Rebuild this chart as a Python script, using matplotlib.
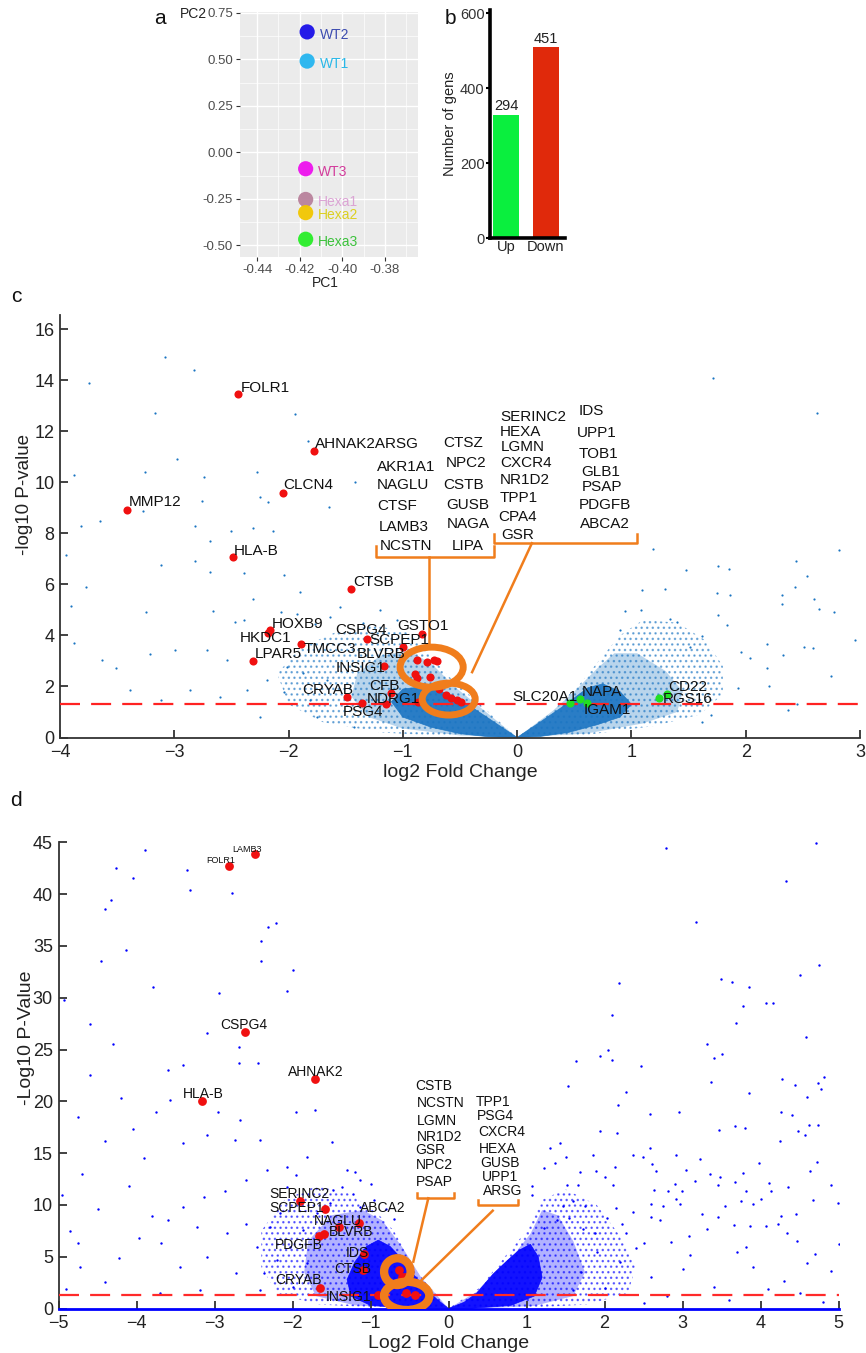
import matplotlib
matplotlib.use("Agg")
import matplotlib.pyplot as plt
import numpy as np
from matplotlib.patches import Ellipse, Polygon
from matplotlib.ticker import AutoMinorLocator

plt.rcParams['font.family'] = ['Liberation Sans', 'DejaVu Sans']
plt.rcParams['hatch.linewidth'] = 1.0

# ---------------- panel a : PCA ----------------
pca_samples = ["WT2", "WT1", "WT3", "Hexa1", "Hexa2", "Hexa3"]
pca_pc1 = [-0.4165, -0.4165, -0.4172, -0.4172, -0.4172, -0.4172]
pca_pc2 = [0.648, 0.491, -0.088, -0.253, -0.324, -0.467]
pca_dot_colors = ["#1a10e8", "#25b5f0", "#ee12ee", "#b9829c", "#f2c600", "#28ee28"]
pca_text_colors = ["#3c4cb0", "#2ab8e8", "#d33c9c", "#dba4d4", "#dcd020", "#3cc23c"]

# ---------------- panel b : DEG counts ----------------
deg_groups = ["Up", "Down"]
deg_heights = [330, 509]
deg_labels = ["294", "451"]
deg_colors = ["#0aef3e", "#e0290b"]

# ---------------- panel c : volcano (log2FC, -log10 p) ----------------
c_bg = np.array([
    (-3.08, 14.9), (-2.83, 14.4), (-3.75, 13.9), (-3.17, 12.7), (-1.94, 12.66), (-1.83, 11.6),
    (-3.88, 10.3), (-2.98, 10.9), (-3.26, 10.4), (-2.74, 10.2), (-2.28, 10.4), (-1.42, 10.0),
    (-2.25, 9.43), (-2.18, 9.24), (-1.65, 9.04), (-2.76, 9.28), (-3.27, 8.89), (-3.82, 8.3),
    (-2.82, 8.3), (-2.5, 8.1), (-2.31, 8.2), (-2.14, 8.1),
    (-2.69, 6.48), (-2.39, 6.44), (-2.04, 6.37), (-1.9, 5.7), (-2.31, 5.44), (-2.66, 4.95),
    (-2.07, 4.91), (-1.93, 4.82), (-2.39, 4.59), (-2.47, 4.52), (-1.77, 4.46), (-1.64, 4.72),
    (-1.55, 5.11), (-2.71, 3.42), (-2.54, 3.03), (-2.01, 2.77), (-1.87, 2.51), (-2.19, 2.25),
    (-1.66, 2.25), (-2.36, 1.86), (-2.04, 1.79), (-2.6, 1.59), (-1.81, 1.46), (-2.25, 0.81),
    (-1.75, 0.81), (-1.43, 0.42),
    (-3.77, 5.88), (-3.9, 5.14), (-3.88, 3.69), (-3.63, 3.03), (-3.51, 2.71), (-3.25, 4.9),
    (-3.21, 3.26), (-2.99, 3.42), (-2.86, 1.86), (-3.12, 1.46), (-3.39, 1.86), (-3.95, 7.13),
    (-3.65, 8.5), (-2.82, 6.93), (-3.12, 6.74), (-2.69, 7.71),
    (-1.2, 5.0), (-1.05, 4.6), (-1.35, 4.5), (-1.3, 6.3),
    (1.71, 14.1), (2.62, 12.7),
    (1.19, 7.39), (2.82, 7.35), (2.44, 6.9), (1.76, 6.71), (1.48, 6.57), (1.85, 6.6),
    (2.54, 6.31), (2.43, 5.89), (1.09, 5.76), (1.29, 5.83), (1.75, 5.66), (1.86, 5.57),
    (2.32, 5.59), (2.6, 5.41), (2.32, 5.24), (0.94, 4.95), (1.08, 5.0), (2.64, 5.05),
    (2.77, 4.91), (1.76, 4.79), (1.34, 4.63), (1.4, 4.52), (1.84, 4.39), (2.96, 3.81),
    (2.19, 3.68), (2.51, 3.55), (2.59, 3.51), (2.33, 3.25), (2.04, 3.13), (2.19, 2.73),
    (0.9, 4.2), (1.51, 3.55), (1.62, 3.96), (2.37, 1.07), (1.62, 0.62), (1.93, 1.92),
    (1.96, 3.35), (2.2, 2.0), (2.45, 1.3), (2.75, 2.4), (1.7, 0.9),
])
c_left_halo = [(0, 0), (-0.3, 1.2), (-0.6, 2.4), (-0.8, 3.4), (-0.95, 4.1), (-1.25, 4.4),
               (-1.6, 4.1), (-1.9, 3.5), (-2.1, 2.5), (-2.0, 1.3), (-1.7, 0.6), (-1.2, 0.2), (-0.5, 0.02)]
c_left_mid = [(0, 0), (-0.3, 1.1), (-0.55, 2.0), (-0.75, 2.9), (-0.95, 3.4), (-1.2, 3.2),
              (-1.4, 2.5), (-1.45, 1.6), (-1.3, 0.8), (-1.0, 0.35), (-0.5, 0.08)]
c_left_core = [(0, 0), (-0.2, 0.6), (-0.4, 1.2), (-0.6, 1.7), (-0.8, 2.0), (-1.0, 1.9),
               (-1.1, 1.4), (-1.0, 0.8), (-0.75, 0.4), (-0.5, 0.15), (-0.25, 0.03)]
c_right_halo = [(0, 0), (0.3, 1.0), (0.55, 2.1), (0.75, 3.2), (0.9, 4.0), (1.1, 4.6), (1.4, 4.5),
                (1.65, 3.8), (1.8, 2.8), (1.8, 1.7), (1.6, 0.9), (1.2, 0.45), (0.6, 0.1)]
c_right_mid = [(0, 0), (0.3, 1.0), (0.5, 1.8), (0.7, 2.7), (0.85, 3.3), (1.05, 3.3), (1.3, 2.6),
               (1.45, 1.8), (1.4, 1.0), (1.1, 0.55), (0.6, 0.15)]
c_right_core = [(0, 0), (0.2, 0.6), (0.38, 1.15), (0.5, 1.55), (0.62, 1.95), (0.75, 2.1),
                (0.9, 1.8), (1.0, 1.3), (0.9, 0.8), (0.7, 0.5), (0.45, 0.2), (0.2, 0.04)]

c_red_genes = ["FOLR1", "AHNAK2ARSG", "CLCN4", "MMP12", "HLA-B", "CTSB", "HOXB9", "HKDC1",
               "TMCC3", "LPAR5", "CSPG4", "GSTO1", "SCPEP1", "BLVRB", "INSIG1", "CFB",
               "CRYAB", "NDRG1", "PSG4"]
c_red_x = [-2.44, -1.78, -2.05, -3.41, -2.49, -1.45, -2.16, -2.18, -1.89, -2.31, -1.31, -0.83,
           -1.0, -0.88, -1.165, -1.10, -1.49, -1.15, -1.354]
c_red_y = [13.45, 11.23, 9.59, 8.93, 7.06, 5.83, 4.2, 4.08, 3.65, 3.0, 3.87, 4.04, 3.55, 3.05,
           2.79, 1.75, 1.57, 1.31, 1.36]
c_red_label_pos = [(-2.42, 13.7), (-1.77, 11.49), (-2.045, 9.9), (-3.4, 9.21), (-2.48, 7.32),
                   (-1.437, 6.09), (-2.146, 4.46), (-2.43, 3.91), (-1.87, 3.45), (-2.3, 3.29),
                   (-1.59, 4.23), (-1.05, 4.36), (-1.29, 3.81), (-1.4, 3.29), (-1.59, 2.73),
                   (-1.29, 2.02), (-1.88, 1.86), (-1.32, 1.49), (-1.53, 1.01)]
c_red_cluster_x = [-0.79, -0.73, -0.70, -0.897, -0.88, -0.765, -0.62, -0.53, -0.49, -0.87, -0.58, -0.68]
c_red_cluster_y = [2.96, 3.03, 3.0, 2.5, 2.35, 2.37, 1.66, 1.46, 1.40, 1.4, 1.55, 1.9]

c_green_genes = ["SLC20A1", "NAPA", "IGAM1", "CD22", "RGS16"]
c_green_x = [0.46, 0.55, 0.61, 1.31, 1.24]
c_green_y = [1.37, 1.5, 1.37, 1.69, 1.56]
c_green_label_pos = [(-0.046, 1.59), (0.566, 1.79), (0.58, 1.07), (1.324, 1.98), (1.275, 1.49)]

c_group_genes = ["AKR1A1", "NAGLU", "CTSF", "LAMB3", "NCSTN",
                 "CTSZ", "NPC2", "CSTB", "GUSB", "NAGA", "LIPA",
                 "SERINC2", "HEXA", "LGMN", "CXCR4", "NR1D2", "TPP1", "CPA4", "GSR",
                 "IDS", "UPP1", "TOB1", "GLB1", "PSAP", "PDGFB", "ABCA2"]
c_group_pos = [(-1.225, 10.6), (-1.225, 9.89), (-1.225, 9.08), (-1.207, 8.26), (-1.199, 7.52),
               (-0.647, 11.52), (-0.621, 10.77), (-0.647, 9.89), (-0.621, 9.11), (-0.612, 8.37), (-0.569, 7.52),
               (-0.149, 12.56), (-0.149, 11.97), (-0.14, 11.36), (-0.149, 10.77), (-0.149, 10.09),
               (-0.149, 9.38), (-0.166, 8.65), (-0.14, 7.94),
               (0.534, 12.77), (0.525, 11.92), (0.542, 11.10), (0.56, 10.41), (0.569, 9.80),
               (0.542, 9.11), (0.551, 8.37)]

# ---------------- panel d : volcano ----------------
d_bg = np.array([
    (2.79, 44.45), (4.71, 44.9), (4.33, 41.3), (3.17, 37.3), (4.75, 33.2), (4.5, 32.2),
    (2.19, 31.4), (3.49, 31.8), (3.64, 31.5), (3.85, 31.0), (3.78, 29.2), (4.07, 29.5),
    (4.16, 29.5), (2.10, 28.3), (3.69, 27.6), (4.58, 26.2), (3.32, 25.5), (3.41, 24.2),
    (3.5, 24.6), (2.05, 24.95), (1.94, 24.4), (2.10, 24.0), (1.64, 23.9), (2.47, 23.4),
    (1.53, 21.5), (2.27, 20.9), (3.37, 21.9), (3.85, 20.8), (4.28, 22.2), (4.44, 21.6),
    (4.81, 22.3), (4.74, 21.8), (4.78, 21.2), (4.59, 20.4), (2.17, 19.6), (2.96, 19.0),
    (2.58, 18.8), (4.26, 19.0), (4.4, 18.7), (1.94, 17.1), (2.16, 16.9), (3.47, 17.2),
    (3.67, 17.6), (3.8, 17.4), (4.48, 17.1), (4.62, 17.7), (4.74, 17.7), (4.57, 16.7),
    (4.25, 16.2), (1.43, 16.0), (1.30, 15.5), (1.85, 14.8), (2.37, 14.8), (2.49, 14.65),
    (2.58, 15.5), (2.92, 14.8), (3.22, 14.4), (3.98, 14.0), (4.73, 14.1), (4.64, 13.3),
    (1.22, 13.6), (1.37, 14.0), (1.5, 14.6), (1.69, 13.2), (1.89, 13.3), (2.0, 12.7),
    (2.14, 13.7), (2.11, 11.95), (2.66, 13.3), (2.61, 13.9), (3.05, 13.4), (3.35, 12.95),
    (3.48, 12.7), (3.78, 13.1), (3.67, 12.2), (4.11, 12.1), (4.35, 11.7), (4.9, 11.9),
    (4.67, 10.5), (4.99, 10.15), (3.81, 11.3), (3.45, 11.9), (3.16, 12.3), (2.9, 12.0),
    (2.64, 11.4), (2.82, 11.3), (2.99, 11.3), (2.92, 10.6), (1.52, 11.95), (1.66, 11.95),
    (1.07, 11.8), (1.07, 10.95), (1.47, 9.9), (1.59, 10.4), (1.75, 9.9), (2.15, 9.67),
    (2.36, 9.28), (2.6, 10.1), (2.75, 9.86), (2.97, 10.1), (3.25, 9.09), (3.45, 8.8),
    (3.55, 9.9), (3.75, 10.35), (3.91, 10.1), (4.0, 10.6), (4.14, 11.3), (4.26, 8.9),
    (4.45, 9.1), (3.66, 8.1), (3.86, 7.96), (4.07, 7.96), (4.23, 8.2), (4.34, 7.26),
    (4.47, 6.55), (5.0, 6.2), (3.08, 7.0), (3.31, 7.67), (2.71, 8.54), (2.59, 8.8),
    (2.22, 8.2), (2.28, 7.26), (2.03, 8.7), (1.73, 7.64), (1.54, 8.7), (1.39, 8.54),
    (1.22, 7.74), (1.88, 7.26), (2.51, 6.35), (2.85, 6.45), (3.82, 5.97),
    (2.2, 4.5), (2.6, 3.0), (3.1, 5.2), (3.4, 2.1), (3.9, 4.0), (4.3, 2.7), (4.7, 5.3),
    (4.9, 3.6), (1.7, 3.5), (2.0, 2.0), (2.8, 1.2), (3.6, 0.8), (4.5, 1.5), (4.8, 0.6),
    (1.9, 5.5), (2.4, 5.8), (3.0, 3.8), (3.7, 5.5), (4.1, 1.9), (2.5, 0.5), (1.6, 1.8), (4.6, 4.4),
    (-3.89, 44.3), (-4.26, 42.55), (-4.05, 41.6), (-3.35, 42.3), (-3.31, 40.4), (-2.78, 40.1),
    (-4.33, 39.4), (-4.4, 38.6), (-2.21, 37.2), (-2.31, 36.85), (-2.4, 35.5), (-4.14, 34.6),
    (-4.45, 33.5), (-2.4, 33.5), (-1.99, 32.7), (-3.79, 31.0), (-2.94, 30.5), (-2.07, 30.6),
    (-4.93, 29.8), (-4.6, 27.5), (-3.1, 26.6), (-2.68, 25.2),
    (-3.4, 23.5), (-2.69, 23.7), (-2.44, 23.7), (-3.57, 20.1), (-2.95, 19.0), (-2.67, 18.2),
    (-3.1, 16.75), (-2.74, 16.3), (-3.4, 15.95), (-2.42, 16.3), (-1.95, 19.0), (-1.71, 19.2),
    (-1.5, 16.1), (-1.82, 14.65), (-2.07, 13.7), (-2.33, 13.4), (-2.59, 12.4), (-2.87, 11.3),
    (-3.14, 10.8), (-3.4, 9.8), (-3.59, 8.54), (-3.23, 7.9), (-2.84, 7.26), (-2.59, 8.2),
    (-2.46, 5.97), (-3.1, 5.0), (-3.44, 4.0), (-2.72, 3.4), (-2.37, 3.4), (-3.19, 1.79),
    (-2.16, 9.2), (-2.07, 11.75), (-1.95, 12.9), (-1.86, 7.6), (-2.29, 7.9), (-1.48, 11.4),
    (-1.37, 11.75), (-1.22, 11.1), (-1.13, 9.8), (-1.52, 10.15), (-1.69, 9.2), (-2.03, 5.97),
    (-2.2, 4.68), (-1.82, 4.36), (-1.99, 2.1), (-2.42, 1.79),
    (-4.6, 22.5), (-4.2, 20.3), (-4.75, 18.5), (-4.4, 16.2), (-3.9, 14.5), (-4.7, 13.0),
    (-4.1, 11.8), (-4.5, 9.6), (-3.8, 8.9), (-4.85, 7.5), (-4.75, 6.3), (-4.72, 4.0),
    (-3.97, 6.8), (-4.22, 4.9), (-3.69, 6.3), (-4.4, 2.6), (-4.9, 1.9), (-3.7, 1.5),
    (-4.95, 11.0), (-4.3, 25.5), (-3.6, 23.0), (-3.75, 19.0), (-4.05, 17.3),
    (-1.3, 13.4), (-1.13, 12.4), (-0.95, 10.5), (-0.8, 9.6), (-1.2, 13.2), (-1.0, 12.0), (-0.7, 8.6),
])
d_left_halo = [(0, 0), (-0.4, 3.5), (-0.7, 7.5), (-0.95, 9.5), (-1.3, 11.2), (-1.7, 11.8),
               (-2.1, 10.5), (-2.4, 7.5), (-2.4, 4.0), (-2.2, 1.5), (-1.7, 0.4), (-0.8, 0.05)]
d_left_mid = [(0, 0), (-0.35, 3.0), (-0.6, 6.0), (-0.85, 8.5), (-1.1, 9.5), (-1.5, 9.0),
              (-1.8, 6.5), (-1.85, 3.5), (-1.7, 1.2), (-1.2, 0.3), (-0.6, 0.05)]
d_left_core = [(0, 0), (-0.15, 0.9), (-0.28, 1.8), (-0.45, 3.3), (-0.6, 4.8), (-0.75, 6.0),
               (-0.9, 6.6), (-1.05, 6.0), (-1.2, 4.5), (-1.3, 2.8), (-1.25, 1.2), (-1.0, 0.3), (-0.5, 0.04)]
d_right_halo = [(0, 0), (0.4, 2.0), (0.7, 4.8), (1.0, 7.5), (1.2, 10.5), (1.5, 11.5), (1.9, 10.0),
                (2.2, 7.0), (2.4, 4.0), (2.3, 1.5), (1.8, 0.4), (1.0, 0.05)]
d_right_mid = [(0, 0), (0.36, 1.6), (0.6, 3.6), (0.85, 5.3), (1.05, 7.2), (1.2, 9.5), (1.4, 9.0),
               (1.6, 6.5), (1.75, 3.5), (1.6, 1.2), (1.1, 0.25), (0.5, 0.03)]
d_right_core = [(0, 0), (0.2, 0.6), (0.36, 1.47), (0.57, 3.3), (0.75, 4.6), (0.9, 5.6),
                (1.05, 6.2), (1.15, 5.0), (1.2, 3.0), (1.1, 1.2), (0.8, 0.3), (0.3, 0.02)]

d_red_genes = ["LAMB3", "FOLR1", "CSPG4", "AHNAK2", "HLA-B", "SERINC2", "SCPEP1", "ABCA2",
               "NAGLU", "BLVRB", "PDGFB", "IDS", "CTSB", "CRYAB", "INSIG1"]
d_red_x = [-2.48, -2.81, -2.61, -1.71, -3.16, -1.91, -1.58, -1.15, -1.41, -1.60, -1.66,
           -1.08, -1.09, -1.65, -0.9]
d_red_y = [43.9, 42.7, 26.7, 22.15, 20.0, 10.4, 9.57, 8.28, 7.9, 7.19, 7.03, 5.23, 3.7, 2.0, 1.3]
d_red_label_pos = [(-2.77, 44.35), (-3.10, 43.2), (-2.92, 27.4), (-2.06, 22.8), (-3.41, 20.7),
                   (-2.30, 11.05), (-2.30, 9.73), (-1.14, 9.67), (-1.72, 8.47), (-1.53, 7.36),
                   (-2.22, 6.13), (-1.32, 5.39), (-1.46, 3.78), (-2.22, 2.75), (-1.58, 1.14)]
d_red_cluster_x = [-0.64, -0.60, -0.56, -0.54, -0.43]
d_red_cluster_y = [3.7, 3.07, 3.07, 1.47, 1.3]

d_group_genes = ["CSTB", "NCSTN", "LGMN", "NR1D2", "GSR", "NPC2", "PSAP",
                 "TPP1", "PSG4", "CXCR4", "HEXA", "GUSB", "UPP1", "ARSG"]
d_group_pos = [(-0.43, 21.5), (-0.40, 19.8), (-0.40, 18.1), (-0.41, 16.6), (-0.42, 15.3),
               (-0.42, 13.85), (-0.42, 12.24),
               (0.353, 19.9), (0.369, 18.6), (0.382, 17.0), (0.395, 15.4), (0.404, 14.07),
               (0.426, 12.72), (0.438, 11.37)]

ORANGE = "#f07d1c"
C_BLUE = "#1a74c2"
D_BLUE = "#0000ff"
RED = "#f01010"

fig = plt.figure(figsize=(8.66, 13.53), dpi=100)

def fx(px):
    return px / 866.0

def fy(py):
    return 1 - py / 1353.0

def draw_cloud(ax, halo, mid, core, color):
    # dense scatter cloud drawn as speckle / shaded layers
    ax.add_patch(Polygon(halo, closed=True, facecolor="none", edgecolor=color,
                         hatch="...", lw=0, alpha=0.55, zorder=1))
    ax.add_patch(Polygon(mid, closed=True, facecolor=color, edgecolor="none",
                         alpha=0.3, zorder=1))
    ax.add_patch(Polygon(core, closed=True, facecolor=color, edgecolor=color,
                         lw=0.5, alpha=0.9, zorder=1))

# ---------- a ----------
axa = fig.add_axes([fx(240), fy(257), fx(178), 245 / 1353.0])
axa.set_facecolor("#ebebeb")
for s in axa.spines.values():
    s.set_visible(False)
axa.set_xlim(-0.448, -0.3645)
axa.set_ylim(-0.5625, 0.755)
axa.set_xticks([-0.44, -0.42, -0.40, -0.38])
axa.set_xticklabels(["-0.44", "-0.42", "-0.40", "-0.38"])
axa.set_yticks([-0.5, -0.25, 0, 0.25, 0.5, 0.75])
axa.set_yticklabels(["-0.50", "-0.25", "0.00", "0.25", "0.50", "0.75"])
axa.xaxis.set_minor_locator(AutoMinorLocator(2))
axa.yaxis.set_minor_locator(AutoMinorLocator(2))
axa.grid(True, which="major", color="white", lw=1.0)
axa.grid(True, which="minor", color="white", lw=0.5)
axa.set_axisbelow(True)
axa.tick_params(which="major", direction="out", length=3, color="#333333",
                labelsize=9.5, labelcolor="#4d4d4d", pad=2)
axa.tick_params(which="minor", length=0)
axa.scatter(pca_pc1, pca_pc2, s=120, c=pca_dot_colors, alpha=0.95, linewidths=0, zorder=3)
for name, x, y, col in zip(pca_samples, pca_pc1, pca_pc2, pca_text_colors):
    axa.annotate(name, (x, y), xytext=(9, -2), textcoords="offset points",
                 color=col, fontsize=10, va="center", ha="left")
axa.text(-0.264, 0.992, "PC2", transform=axa.transAxes, fontsize=10, color="#222222",
         ha="center", va="center")
axa.text(0.478, -0.108, "PC1", transform=axa.transAxes, fontsize=10, color="#222222",
         ha="center", va="center")

# ---------- b ----------
axb = fig.add_axes([fx(490), fy(238.3), fx(75), (238.3 - 10) / 1353.0])
xb = np.arange(len(deg_groups))
bars = axb.bar(xb, deg_heights, width=0.65, color=deg_colors)
for rect, lab in zip(bars, deg_labels):
    axb.annotate(lab, (rect.get_x() + rect.get_width() / 2, rect.get_height()),
                 xytext=(0, 1), textcoords="offset points", ha="center", va="bottom",
                 fontsize=10.5, color="#222222")
axb.set_xlim(-0.4, 1.475)
axb.set_ylim(0, 609)
axb.set_yticks([0, 200, 400, 600])
axb.set_xticks(xb)
axb.set_xticklabels(deg_groups)
axb.spines["top"].set_visible(False)
axb.spines["right"].set_visible(False)
axb.spines["left"].set_linewidth(2.6)
axb.spines["bottom"].set_linewidth(2.6)
axb.tick_params(axis="y", direction="out", length=3, width=1.5, labelsize=10.5,
                labelcolor="#333333", pad=1)
axb.tick_params(axis="x", length=0, labelsize=10.5, labelcolor="#222222", pad=1)
axb.set_ylabel("Number of gens", fontsize=10.5, color="#222222", labelpad=2)

# ---------- c ----------
axc = fig.add_axes([fx(60), fy(737.5), fx(800), 422.5 / 1353.0])
draw_cloud(axc, c_left_halo, c_left_mid, c_left_core, C_BLUE)
draw_cloud(axc, c_right_halo, c_right_mid, c_right_core, C_BLUE)
axc.scatter(c_bg[:, 0], c_bg[:, 1], s=2.5, c=C_BLUE, linewidths=0, zorder=2)
axc.axhline(1.3, color="#ff2222", lw=1.6, dashes=(9, 5), zorder=3)
axc.scatter(c_red_x, c_red_y, s=34, c=RED, linewidths=0, zorder=4)
axc.scatter(c_red_cluster_x, c_red_cluster_y, s=34, c=RED, linewidths=0, zorder=4)
axc.scatter(c_green_x, c_green_y, s=34, c="#22e022", linewidths=0, zorder=4)
for name, (tx, ty) in zip(c_red_genes + c_green_genes, c_red_label_pos + c_green_label_pos):
    axc.text(tx, ty, name, fontsize=11, ha="left", va="center", color="#111111", zorder=6)
for name, (tx, ty) in zip(c_group_genes, c_group_pos):
    axc.text(tx, ty, name, fontsize=11, ha="left", va="center", color="#111111", zorder=6)
# orange annotations
axc.add_patch(Ellipse((-0.748, 2.755), 0.552, 1.57, fill=False, ec=ORANGE, lw=5, zorder=5))
axc.add_patch(Ellipse((-0.599, 1.505), 0.464, 1.25, fill=False, ec=ORANGE, lw=5, zorder=5))
axc.plot([-1.236, -1.236, -0.199, -0.199], [7.52, 7.09, 7.09, 7.52], color=ORANGE, lw=1.8, zorder=5)
axc.plot([-0.767, -0.767], [7.09, 3.55], color=ORANGE, lw=1.8, zorder=5)
axc.plot([-0.199, -0.199, 1.047, 1.047], [7.98, 7.61, 7.61, 7.98], color=ORANGE, lw=1.8, zorder=5)
axc.plot([0.129, -0.394], [7.61, 2.56], color=ORANGE, lw=1.8, zorder=5)
axc.set_xlim(-4, 3)
axc.set_ylim(0, 16.55)
axc.set_xticks(np.arange(-4, 4))
axc.set_yticks(np.arange(0, 17, 2))
for side in ("top", "right"):
    axc.spines[side].set_visible(False)
for side in ("left", "bottom"):
    axc.spines[side].set_color("#333333")
    axc.spines[side].set_linewidth(1.3)
axc.tick_params(direction="in", length=6, width=1.3, color="#333333", labelsize=13,
                labelcolor="#222222")
axc.tick_params(axis="x", pad=5)
axc.tick_params(axis="y", pad=4)
axc.set_xlabel("log2 Fold Change", fontsize=14, color="#222222", labelpad=2)
axc.set_ylabel("-log10 P-value", fontsize=13.5, color="#222222")
axc.yaxis.set_label_coords(-0.034, 0.574)

# ---------- d ----------
axd = fig.add_axes([fx(58.5), fy(1308.5), fx(780), 466.2 / 1353.0])
draw_cloud(axd, d_left_halo, d_left_mid, d_left_core, D_BLUE)
draw_cloud(axd, d_right_halo, d_right_mid, d_right_core, D_BLUE)
axd.scatter(d_bg[:, 0], d_bg[:, 1], s=3, c=D_BLUE, linewidths=0, zorder=2)
axd.axhline(1.3, color="#ff2a2a", lw=1.6, dashes=(9, 5), zorder=3)
axd.scatter(d_red_x, d_red_y, s=40, c=RED, linewidths=0, zorder=4)
axd.scatter(d_red_cluster_x, d_red_cluster_y, s=40, c=RED, linewidths=0, zorder=4)
for i, (name, (tx, ty)) in enumerate(zip(d_red_genes, d_red_label_pos)):
    axd.text(tx, ty, name, fontsize=6.5 if i < 2 else 10, ha="left", va="center",
             color="#111111", zorder=6)
for name, (tx, ty) in zip(d_group_genes, d_group_pos):
    axd.text(tx, ty, name, fontsize=10, ha="left", va="center", color="#111111", zorder=6)
axd.add_patch(Ellipse((-0.656, 3.56), 0.34, 2.58, fill=False, ec=ORANGE, lw=6, zorder=5))
axd.add_patch(Ellipse((-0.536, 1.22), 0.58, 2.73, fill=False, ec=ORANGE, lw=6, zorder=5))
axd.plot([-0.40, -0.40, 0.07, 0.07], [11.12, 10.64, 10.64, 11.12], color=ORANGE, lw=1.8, zorder=5)
axd.plot([-0.259, -0.451], [10.64, 4.52], color=ORANGE, lw=1.8, zorder=5)
axd.plot([0.382, 0.382, 0.895, 0.895], [10.47, 9.99, 9.99, 10.47], color=ORANGE, lw=1.8, zorder=5)
axd.plot([0.567, -0.365], [9.44, 2.59], color=ORANGE, lw=1.8, zorder=5)
axd.set_xlim(-5, 5)
axd.set_ylim(0, 45)
axd.set_xticks(np.arange(-5, 6))
axd.set_yticks(np.arange(0, 46, 5))
for side in ("top", "right"):
    axd.spines[side].set_visible(False)
axd.spines["left"].set_color("#333333")
axd.spines["left"].set_linewidth(1.3)
axd.spines["bottom"].set_color(D_BLUE)
axd.spines["bottom"].set_linewidth(2.0)
axd.tick_params(direction="in", length=6, width=1.3, color="#333333", labelsize=13,
                labelcolor="#222222")
axd.tick_params(axis="x", pad=5)
axd.tick_params(axis="y", pad=4)
axd.set_xlabel("Log2 Fold Change", fontsize=14, color="#222222", labelpad=2)
axd.set_ylabel("-Log10 P-Value", fontsize=14, color="#222222")
axd.yaxis.set_label_coords(-0.030, 0.58)

# panel letters
for letter, px, py in (("a", 160, 18), ("b", 450, 18), ("c", 16, 296), ("d", 16, 801)):
    fig.text(fx(px), fy(py), letter, fontsize=15, ha="center", va="center", color="#111111")

fig.savefig("out.png", dpi=100)
